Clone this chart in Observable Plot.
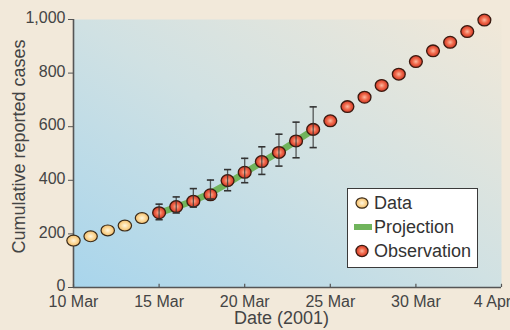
<!DOCTYPE html>
<html><head><meta charset="utf-8">
<script src="https://cdn.jsdelivr.net/npm/d3@7"></script>
<script src="https://cdn.jsdelivr.net/npm/@observablehq/plot@0.6"></script>
<style>
html,body{margin:0;padding:0;background:#f2e9da;}
#chart{position:relative;width:510px;height:330px;overflow:hidden;font-family:"Liberation Sans",Arial,sans-serif;}
#legend{position:absolute;left:347px;top:188px;width:131px;height:80px;background:#fff;border:1px solid #3a3a3a;box-sizing:border-box;padding-top:2px;}
#legend .row{display:flex;align-items:center;height:24px;font-size:18px;color:#333;}
#legend svg{margin-left:4px;margin-right:2px;flex:none;}
</style></head><body><div id="chart"></div>
<script>
// ---- data ----
const dataDates = ["2001-03-10","2001-03-11","2001-03-12","2001-03-13","2001-03-14"];
const dataValues = [175,191,213,231,259];

const obsDates = ["2001-03-15","2001-03-16","2001-03-17","2001-03-18","2001-03-19","2001-03-20","2001-03-21","2001-03-22","2001-03-23","2001-03-24",
  "2001-03-25","2001-03-26","2001-03-27","2001-03-28","2001-03-29","2001-03-30","2001-03-31","2001-04-01","2001-04-02","2001-04-03"];
const obsValues = [279,302,322,346,399,430,470,504,547,590,622,675,710,754,796,843,883,915,955,998];

const errDates = ["2001-03-15","2001-03-16","2001-03-17","2001-03-18","2001-03-19","2001-03-20","2001-03-21","2001-03-22","2001-03-23","2001-03-24"];
const errLow  = [253,278,300,330,361,391,422,453,484,522];
const errHigh = [311,338,369,401,440,482,525,572,617,674];

const projDates = errDates;
const projValues = [278,300,324,352,388,428,467,506,547,588];

const xTickDates = ["2001-03-10","2001-03-15","2001-03-20","2001-03-25","2001-03-30","2001-04-04"];
const yTicks = [0,200,400,600,800,1000];
const xDomainDates = ["2001-03-10","2001-04-04"];

const yTitle = "Cumulative reported cases";
const xTitle = "Date (2001)";
const legendLabels = ["Data","Projection","Observation"];

// ---- build ----
const parse = d3.utcParse("%Y-%m-%d");
const dataPts = dataDates.map((d,i)=>({date:parse(d), value:dataValues[i]}));
const obsPts = obsDates.map((d,i)=>({date:parse(d), value:obsValues[i]}));
const errPts = errDates.map((d,i)=>({date:parse(d), lo:errLow[i], hi:errHigh[i]}));
const projPts = projDates.map((d,i)=>({date:parse(d), value:projValues[i]}));
const xTicks = xTickDates.map(parse);
const xDomain = xDomainDates.map(parse);
const xTicksMain = xTicks.slice(0, -1);
const xTickLast = xTicks.slice(-1);

function ellipseSymbol(kx, ky){
  return {draw(ctx, size){
    const r = Math.sqrt(size/Math.PI);
    const rx = r*kx, ry = r*ky, k = 0.5523;
    ctx.moveTo(rx,0);
    ctx.bezierCurveTo(rx, ry*k, rx*k, ry, 0, ry);
    ctx.bezierCurveTo(-rx*k, ry, -rx, ry*k, -rx, 0);
    ctx.bezierCurveTo(-rx, -ry*k, -rx*k, -ry, 0, -ry);
    ctx.bezierCurveTo(rx*k, -ry, rx, -ry*k, rx, 0);
    ctx.closePath();
  }};
}
const capSymbol = {draw(ctx, size){
  const r = Math.sqrt(size/Math.PI);
  ctx.moveTo(-r,0); ctx.lineTo(r,0);
}};

const axisColor = "#555";
const fmtX = d3.utcFormat("%-d %b");
const plot = Plot.plot({
  width: 510, height: 330,
  marginLeft: 73, marginRight: 9, marginTop: 19, marginBottom: 43,
  style: {background: "transparent", color: "#444", fontFamily: '"Liberation Sans", Arial, sans-serif', fontSize: "16px", overflow: "visible"},
  x: {type: "utc", domain: xDomain},
  y: {domain: [0, 1000]},
  marks: [
    Plot.frame({fill: "url(#bg)", stroke: null}),
    Plot.axisY({ticks: yTicks, tickSize: 5, tickFormat: () => "", label: null, stroke: axisColor}),
    Plot.axisY({ticks: yTicks, tickSize: 0, tickPadding: 8, tickFormat: d3.format(","), label: null, fontSize: 16, dy: -1.5}),
    Plot.axisX({ticks: xTicksMain, tickSize: 0, tickPadding: 8, tickFormat: fmtX, label: null, fontSize: 16}),
    Plot.axisX({ticks: xTickLast, tickSize: 0, tickPadding: 8, tickFormat: fmtX, label: null, fontSize: 16, dx: -9}),
    Plot.ruleX(xTicks, {y1: 0, y2: 12, stroke: axisColor, strokeWidth: 1.2}),
    Plot.ruleY([0], {stroke: axisColor, strokeWidth: 1.6}),
    Plot.ruleX([xDomain[0]], {stroke: axisColor, strokeWidth: 1.6}),
    Plot.line(projPts, {x: "date", y: "value", stroke: "#70b45c", strokeWidth: 6.5}),
    Plot.dot(dataPts, {x: "date", y: "value", r: 6.3, symbol: ellipseSymbol(1.06, 0.86), fill: "url(#yellowGrad)", stroke: "#3a2a18", strokeWidth: 1.2}),
    Plot.dot(obsPts, {x: "date", y: "value", r: 6.3, symbol: ellipseSymbol(1.02, 0.93), fill: "url(#redGrad)", stroke: "#3a1a10", strokeWidth: 1.3}),
    Plot.ruleX(errPts, {x: "date", y1: "lo", y2: "hi", stroke: "#333", strokeWidth: 1.3, strokeOpacity: 0.8}),
    Plot.dot(errPts, {x: "date", y: "hi", r: 3.6, symbol: capSymbol, stroke: "#333", strokeWidth: 1.6}),
    Plot.dot(errPts, {x: "date", y: "lo", r: 3.6, symbol: capSymbol, stroke: "#333", strokeWidth: 1.6}),
    Plot.text([yTitle], {frameAnchor: "left", textAnchor: "middle", lineAnchor: "middle", dx: -54, dy: -7, rotate: -90, fontSize: 18, fill: "#444"}),
    Plot.text([xTitle], {frameAnchor: "bottom", textAnchor: "middle", lineAnchor: "middle", dx: -6, dy: 31, fontSize: 18, fill: "#444"})
  ]
});

const defs = `<defs>
<linearGradient id="bg" x1="0" y1="1" x2="1" y2="0">
  <stop offset="0" stop-color="#a8d5ec"/>
  <stop offset="0.5" stop-color="#d0e1e3"/>
  <stop offset="1" stop-color="#f1e8d8"/>
</linearGradient>
<radialGradient id="redGrad" cx="0.5" cy="0.5" r="0.55">
  <stop offset="0" stop-color="#fbb9a2"/>
  <stop offset="0.45" stop-color="#f06a4c"/>
  <stop offset="1" stop-color="#c92b1c"/>
</radialGradient>
<radialGradient id="yellowGrad" cx="0.5" cy="0.5" r="0.55">
  <stop offset="0" stop-color="#fff6df"/>
  <stop offset="0.5" stop-color="#fcd898"/>
  <stop offset="1" stop-color="#eeb55f"/>
</radialGradient>
</defs>`;
plot.insertAdjacentHTML("afterbegin", defs);

const chart = document.getElementById("chart");
chart.appendChild(plot);

const legend = document.createElement("div");
legend.id = "legend";
const sw = [
  `<svg width="20" height="14"><ellipse cx="10" cy="7" rx="6" ry="5.2" fill="url(#yellowGrad)" stroke="#3a2a18" stroke-width="1.2"/></svg>`,
  `<svg width="20" height="14"><rect x="2" y="4" width="18" height="6" fill="#70b45c"/></svg>`,
  `<svg width="20" height="14"><ellipse cx="10" cy="7" rx="6" ry="5.6" fill="url(#redGrad)" stroke="#3a1a10" stroke-width="1.3"/></svg>`
];
legend.innerHTML = legendLabels.map((l,i)=>`<div class="row">${sw[i]}<span>${l}</span></div>`).join("");
chart.appendChild(legend);
</script>
</body></html>
